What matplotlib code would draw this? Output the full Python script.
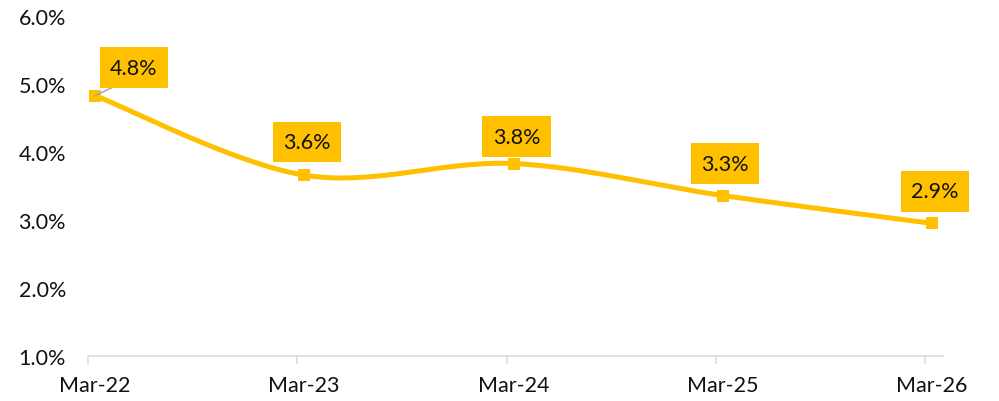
import numpy as np
import matplotlib
matplotlib.use("Agg")
import matplotlib.pyplot as plt
from matplotlib.ticker import FuncFormatter

plt.rcParams['font.family'] = ['Lato', 'DejaVu Sans']

# ---- data ----
categories = ["Mar-22", "Mar-23", "Mar-24", "Mar-25", "Mar-26"]
values = [4.83, 3.66, 3.83, 3.36, 2.95]
point_labels = ["4.8%", "3.6%", "3.8%", "3.3%", "2.9%"]
y_ticks = [1.0, 2.0, 3.0, 4.0, 5.0, 6.0]

LINE = "#FFC000"
TXT = "#111111"
PX = 72 / 100.0  # points per pixel at dpi 100
FS = 15.5


def excel_smooth(x, y, n=60):
    x = np.asarray(x, float)
    y = np.asarray(y, float)
    P = np.column_stack([x, y])
    out = []
    for i in range(len(P) - 1):
        p0 = P[i - 1] if i > 0 else P[i]
        p1 = P[i]
        p2 = P[i + 1]
        p3 = P[i + 2] if i + 2 < len(P) else P[i + 1]
        c1 = p1 + (p2 - p0) / 6.0
        c2 = p2 - (p3 - p1) / 6.0
        t = np.linspace(0, 1, n)[:, None]
        seg = ((1 - t) ** 3) * p1 + 3 * ((1 - t) ** 2) * t * c1 + 3 * (1 - t) * t ** 2 * c2 + t ** 3 * p2
        out.append(seg if i == 0 else seg[1:])
    s = np.vstack(out)
    return s[:, 0], s[:, 1]


fig = plt.figure(figsize=(9.99, 4.02), dpi=100)
ax = fig.add_axes([88 / 999, 45 / 402, 855 / 999, 340 / 402])

x = np.arange(len(categories))
sx, sy = excel_smooth(x, values)
ax.plot(sx, sy, color=LINE, lw=5 * PX, solid_capstyle='round', zorder=3)
ax.plot(x, values, linestyle='none', marker='s', markersize=12.5 * PX,
        color=LINE, markeredgewidth=0, zorder=4)

step = 209.25
ax.set_xlim(-7 / step, 4 + 11 / step)
ax.set_ylim(1.0, 6.0)

# y axis
ax.set_yticks(y_ticks)
ax.yaxis.set_major_formatter(FuncFormatter(lambda v, p: f"{v:.1f}%"))
ax.tick_params(axis='y', length=0, pad=22 * PX, labelsize=FS, labelcolor=TXT)

# x axis: tick marks slightly left of points, labels centered at points
ax.set_xticks(x - 7 / step)
ax.set_xticklabels([])
ax.tick_params(axis='x', which='major', length=6, width=1.5 * PX, color='#D9D9D9', direction='out')
ax.set_xticks(x, minor=True)
ax.set_xticklabels(categories, minor=True)
ax.tick_params(axis='x', which='minor', length=0, pad=19 * PX, labelsize=FS, labelcolor=TXT)

for s in ['top', 'right', 'left']:
    ax.spines[s].set_visible(False)
ax.spines['bottom'].set_color('#D9D9D9')
ax.spines['bottom'].set_linewidth(1.5 * PX)

bbox = dict(boxstyle='square,pad=0.48', fc=LINE, ec='none')
offsets = [(39, 28), (3, 33), (3, 27), (2, 32), (3, 32)]
for i, (v, lab) in enumerate(zip(values, point_labels)):
    dx, dy = offsets[i]
    kw = {}
    if i == 0:
        kw['arrowprops'] = dict(arrowstyle='-', color='#A6A6A6', lw=1.5 * PX,
                                shrinkA=0, shrinkB=0, relpos=(0.5, 0.0))
    ax.annotate(lab, (x[i], v), xytext=(dx * PX, dy * PX), textcoords='offset points',
                ha='center', va='center', fontsize=FS, color=TXT, bbox=bbox,
                zorder=5, **kw)

fig.savefig("out.png", dpi=100)
